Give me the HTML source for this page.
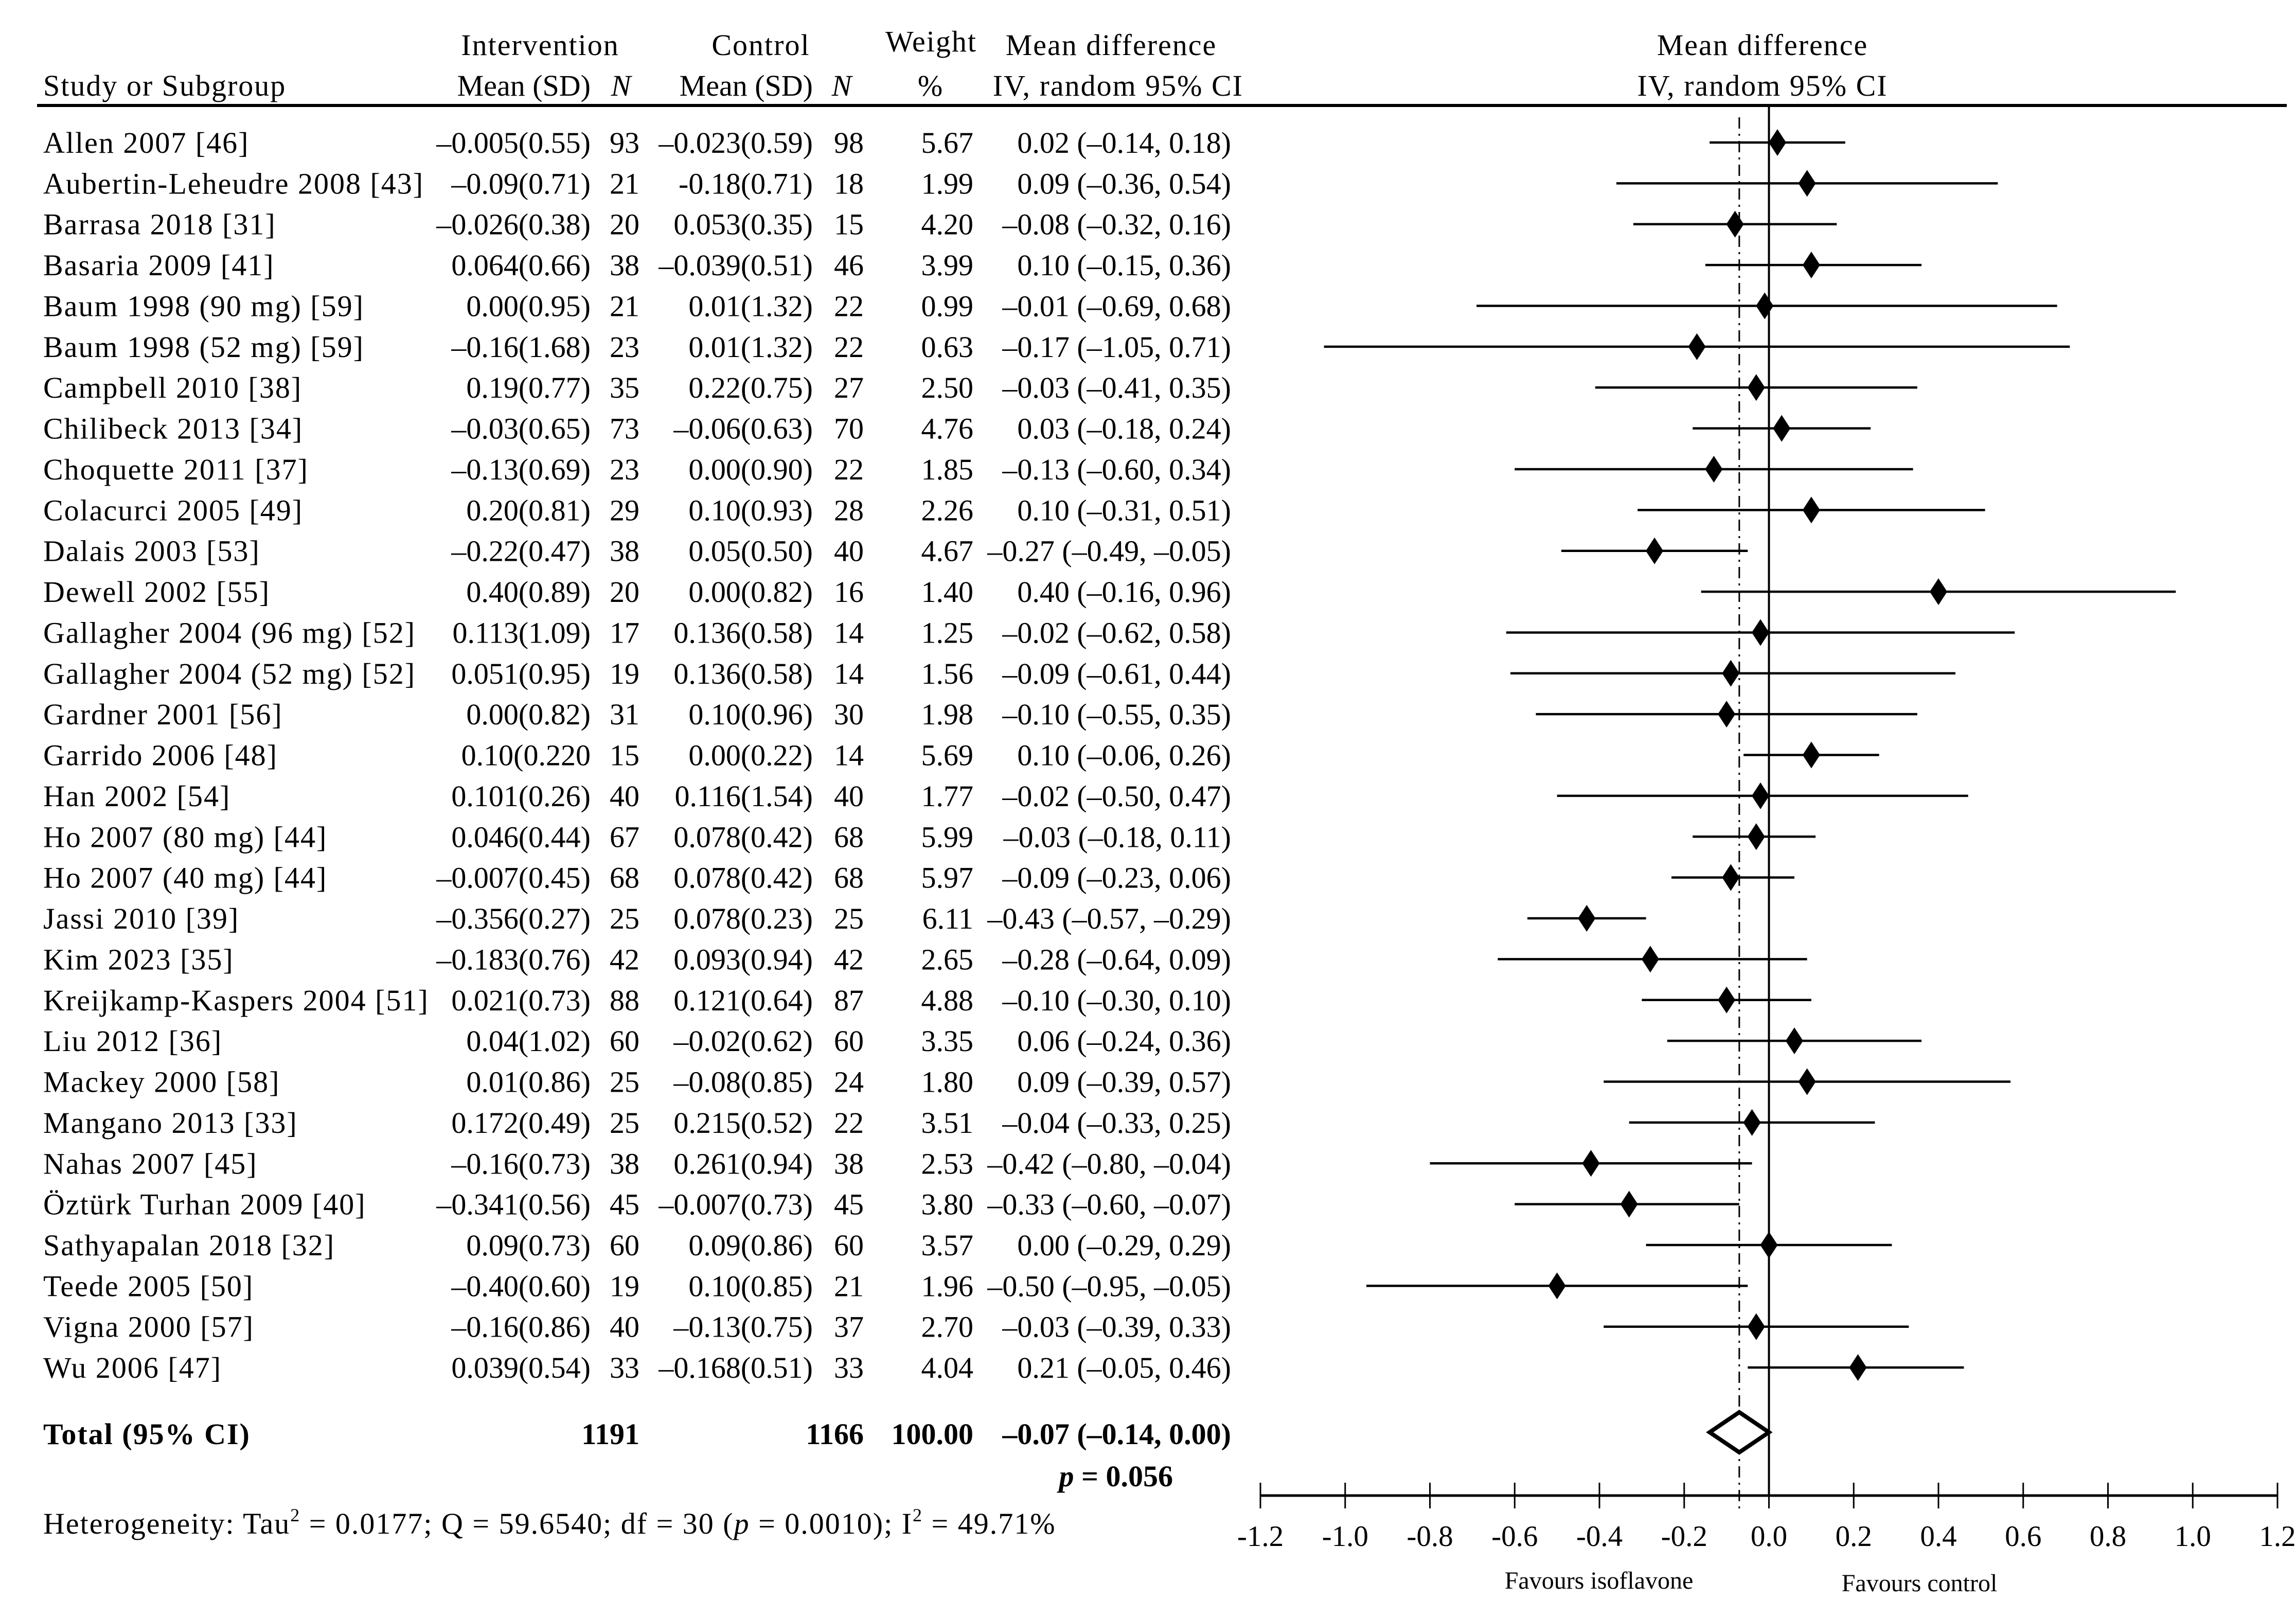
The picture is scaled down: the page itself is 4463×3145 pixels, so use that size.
<!DOCTYPE html>
<html><head><meta charset="utf-8"><style>
html,body{margin:0;padding:0;background:#fff;}
svg{display:block;font-family:"Liberation Serif",serif;}
.ls{letter-spacing:2px;}
</style></head><body>
<svg id="chart" width="4463" height="3145" viewBox="0 0 4463 3145" xmlns="http://www.w3.org/2000/svg">
<g font-size="58" fill="#000">
<text class="ls" x="1050" y="107" text-anchor="middle">Intervention</text>
<text class="ls" x="1479" y="107" text-anchor="middle">Control</text>
<text class="ls" x="1810" y="100" text-anchor="middle">Weight</text>
<text class="ls" x="2160" y="107" text-anchor="middle">Mean difference</text>
<text class="ls" x="84" y="186">Study or Subgroup</text>
<text x="1148" y="186" text-anchor="end">Mean (SD)</text>
<text x="1207" y="186" text-anchor="middle" font-style="italic">N</text>
<text x="1580" y="186" text-anchor="end">Mean (SD)</text>
<text x="1636" y="186" text-anchor="middle" font-style="italic">N</text>
<text x="1808" y="186" text-anchor="middle">%</text>
<text class="ls" x="2417" y="186" text-anchor="end">IV, random 95% CI</text>
<text class="ls" x="3426" y="107" text-anchor="middle">Mean difference</text>
<text class="ls" x="3426" y="186" text-anchor="middle">IV, random 95% CI</text>
</g>
<line x1="72" y1="205" x2="4445" y2="205" stroke="#000" stroke-width="6"/>
<g id="rows" font-size="58"></g>
<g id="plot"></g>
<g font-size="58" font-weight="bold">
<text class="ls" x="84" y="2807">Total (95% CI)</text>
<text id="totN1" x="1243" y="2807" text-anchor="end">1191</text>
<text id="totN2" x="1679" y="2807" text-anchor="end">1166</text>
<text x="1892" y="2807" text-anchor="end">100.00</text>
<text id="totCI" x="2393" y="2807" text-anchor="end"></text>
<text x="2280" y="2889" text-anchor="end"><tspan font-style="italic">p</tspan> = 0.056</text>
</g>
<text class="ls" x="84" y="2981" font-size="58">Heterogeneity: Tau<tspan dy="-24" font-size="36">2</tspan><tspan dy="24"> = 0.0177; Q = 59.6540; df = 30 (</tspan><tspan font-style="italic">p</tspan> = 0.0010); I<tspan dy="-24" font-size="36">2</tspan><tspan dy="24"> = 49.71%</tspan></text>
</svg>
<script>
const studies = ["Allen 2007 [46]","Aubertin-Leheudre 2008 [43]","Barrasa 2018 [31]","Basaria 2009 [41]","Baum 1998 (90 mg) [59]","Baum 1998 (52 mg) [59]","Campbell  2010 [38]","Chilibeck 2013 [34]","Choquette 2011 [37]","Colacurci 2005 [49]","Dalais 2003 [53]","Dewell  2002 [55]","Gallagher 2004 (96 mg) [52]","Gallagher 2004 (52 mg) [52]","Gardner 2001 [56]","Garrido 2006 [48]","Han 2002 [54]","Ho 2007 (80 mg) [44]","Ho 2007 (40 mg) [44]","Jassi 2010 [39]","Kim 2023 [35]","Kreijkamp-Kaspers 2004 [51]","Liu 2012 [36]","Mackey 2000 [58]","Mangano 2013 [33]","Nahas 2007 [45]","Öztürk Turhan 2009 [40]","Sathyapalan 2018 [32]","Teede 2005 [50]","Vigna 2000 [57]","Wu 2006 [47]"];
const intMeanSD = ["–0.005(0.55)","–0.09(0.71)","–0.026(0.38)","0.064(0.66)","0.00(0.95)","–0.16(1.68)","0.19(0.77)","–0.03(0.65)","–0.13(0.69)","0.20(0.81)","–0.22(0.47)","0.40(0.89)","0.113(1.09)","0.051(0.95)","0.00(0.82)","0.10(0.220","0.101(0.26)","0.046(0.44)","–0.007(0.45)","–0.356(0.27)","–0.183(0.76)","0.021(0.73)","0.04(1.02)","0.01(0.86)","0.172(0.49)","–0.16(0.73)","–0.341(0.56)","0.09(0.73)","–0.40(0.60)","–0.16(0.86)","0.039(0.54)"];
const intN = [93,21,20,38,21,23,35,73,23,29,38,20,17,19,31,15,40,67,68,25,42,88,60,25,25,38,45,60,19,40,33];
const ctlMeanSD = ["–0.023(0.59)","-0.18(0.71)","0.053(0.35)","–0.039(0.51)","0.01(1.32)","0.01(1.32)","0.22(0.75)","–0.06(0.63)","0.00(0.90)","0.10(0.93)","0.05(0.50)","0.00(0.82)","0.136(0.58)","0.136(0.58)","0.10(0.96)","0.00(0.22)","0.116(1.54)","0.078(0.42)","0.078(0.42)","0.078(0.23)","0.093(0.94)","0.121(0.64)","–0.02(0.62)","–0.08(0.85)","0.215(0.52)","0.261(0.94)","–0.007(0.73)","0.09(0.86)","0.10(0.85)","–0.13(0.75)","–0.168(0.51)"];
const ctlN = [98,18,15,46,22,22,27,70,22,28,40,16,14,14,30,14,40,68,68,25,42,87,60,24,22,38,45,60,21,37,33];
const weights = [5.67,1.99,4.20,3.99,0.99,0.63,2.50,4.76,1.85,2.26,4.67,1.40,1.25,1.56,1.98,5.69,1.77,5.99,5.97,6.11,2.65,4.88,3.35,1.80,3.51,2.53,3.80,3.57,1.96,2.70,4.04];
const md = [0.02,0.09,-0.08,0.10,-0.01,-0.17,-0.03,0.03,-0.13,0.10,-0.27,0.40,-0.02,-0.09,-0.10,0.10,-0.02,-0.03,-0.09,-0.43,-0.28,-0.10,0.06,0.09,-0.04,-0.42,-0.33,0.00,-0.50,-0.03,0.21];
const lo = [-0.14,-0.36,-0.32,-0.15,-0.69,-1.05,-0.41,-0.18,-0.60,-0.31,-0.49,-0.16,-0.62,-0.61,-0.55,-0.06,-0.50,-0.18,-0.23,-0.57,-0.64,-0.30,-0.24,-0.39,-0.33,-0.80,-0.60,-0.29,-0.95,-0.39,-0.05];
const hi = [0.18,0.54,0.16,0.36,0.68,0.71,0.35,0.24,0.34,0.51,-0.05,0.96,0.58,0.44,0.35,0.26,0.47,0.11,0.06,-0.29,0.09,0.10,0.36,0.57,0.25,-0.04,-0.07,0.29,-0.05,0.33,0.46];
const pooled = [-0.07,-0.14,0.00];
const tickVals = [-1.2,-1.0,-0.8,-0.6,-0.4,-0.2,0.0,0.2,0.4,0.6,0.8,1.0,1.2];

const NS='http://www.w3.org/2000/svg';
const X0=2450, X1=4427, XMIN=-1.2, XMAX=1.2;
const xs = v => X0 + (v-XMIN)/(XMAX-XMIN)*(X1-X0);
const ROW0=277, ROWH=79.37;
const ys = i => ROW0 + i*ROWH;
const f2 = v => { const s=Math.abs(v).toFixed(2); return (v<0 && s!=='0.00' ? '–' : '') + s; };
function mk(tag, attrs, parent){ const e=document.createElementNS(NS,tag); for(const k in attrs) e.setAttribute(k,attrs[k]); parent.appendChild(e); return e; }

const rows=document.getElementById('rows');
const plot=document.getElementById('plot');
const cols=[{x:84,a:'start'},{x:1148,a:'end'},{x:1243,a:'end'},{x:1580,a:'end'},{x:1679,a:'end'},{x:1892,a:'end'},{x:2393,a:'end'}];
const colNames=['study-name','intervention-mean-sd','intervention-n','control-mean-sd','control-n','weight','ci-text'];
for(let i=0;i<studies.length;i++){
  const vals=[studies[i],intMeanSD[i],String(intN[i]),ctlMeanSD[i],String(ctlN[i]),weights[i].toFixed(2),f2(md[i])+' ('+f2(lo[i])+', '+f2(hi[i])+')'];
  for(let c=0;c<7;c++){
    const t=mk('text',{x:cols[c].x,y:ys(i)+20,'text-anchor':cols[c].a},rows);
    
    
    if(c===0) t.setAttribute('class','ls');
    t.textContent=vals[c];
  }
}
const zl=mk('line',{x1:xs(0),x2:xs(0),y1:205,y2:2907,stroke:'#000','stroke-width':4},plot);


const pl=mk('line',{x1:xs(pooled[0]),x2:xs(pooled[0]),y1:228,y2:2932,stroke:'#000','stroke-width':3,'stroke-dasharray':'22 10 4 10'},plot);


for(let i=0;i<studies.length;i++){
  const y=ys(i);
  const l=mk('line',{x1:xs(lo[i]),x2:xs(hi[i]),y1:y,y2:y,stroke:'#000','stroke-width':4.5},plot);
  
  
  const cx=xs(md[i]);
  const d=mk('polygon',{points:`${cx},${y-26} ${cx+17},${y} ${cx},${y+26} ${cx-17},${y}`,fill:'#000'},plot);
  
  
}
const ty=2784;
const td=mk('polygon',{points:`${xs(pooled[0])},${ty-39} ${xs(pooled[2])},${ty} ${xs(pooled[0])},${ty+39} ${xs(pooled[1])},${ty}`,fill:'#fff',stroke:'#000','stroke-width':8},plot);


document.getElementById('totCI').textContent=f2(pooled[0])+' ('+f2(pooled[1])+', '+f2(pooled[2])+')';
const ax=mk('line',{x1:X0,x2:X1,y1:2907,y2:2907,stroke:'#000','stroke-width':5},plot);


for(const v of tickVals){
  const tk=mk('line',{x1:xs(v),x2:xs(v),y1:2882,y2:2932,stroke:'#000','stroke-width':3},plot);
  
  
  const tl=mk('text',{x:xs(v),y:3005,'text-anchor':'middle','font-size':57},plot);
  
  
  tl.textContent=(v<0?'-':'')+Math.abs(v).toFixed(1);
}
const fa=mk('text',{x:3108,y:3088,'text-anchor':'middle','font-size':48},plot);


fa.textContent='Favours isoflavone';
const fc=mk('text',{x:3731,y:3093,'text-anchor':'middle','font-size':48},plot);


fc.textContent='Favours control';
</script>
</body></html>
